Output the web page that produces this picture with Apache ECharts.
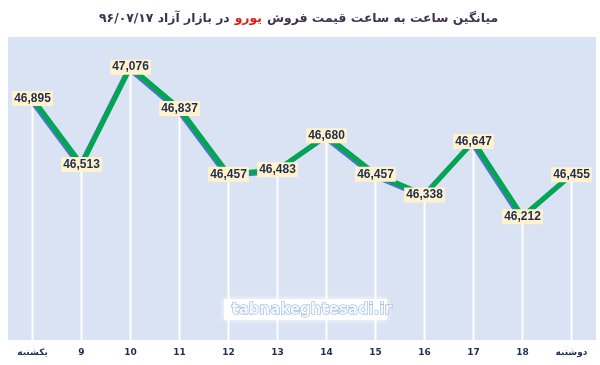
<!DOCTYPE html>
<html><head><meta charset="utf-8">
<script src="https://cdn.jsdelivr.net/npm/echarts@6/dist/echarts.min.js"></script>
<style>html,body{margin:0;padding:0;background:#fff}#c{width:600px;height:365px}</style>
</head><body><div id="c"></div>
<script>
const categories = ['یکشنبه','9','10','11','12','13','14','15','16','17','18','دوشنبه'];
const prices = [46895,46513,47076,46837,46457,46483,46680,46457,46338,46647,46212,46455];
const titleMain = 'میانگین ساعت به ساعت قیمت فروش';
const titleRed = 'یورو';
const titleTail = 'در بازار آزاد ۹۶/۰۷/۱۷';
const watermark = 'tabnakeghtesadi.ir';

const chart = echarts.init(document.getElementById('c'));
chart.setOption({
  animation: false,
  backgroundColor: '#ffffff',
  title: {
    text: '{a|' + titleTail + '} {r|' + titleRed + '} {b|' + titleMain + '}',
    left: 94, top: 5,
    textStyle: {
      rich: {
        a: {fontFamily: 'DejaVu Sans', fontWeight: 'bold', fontSize: 12.4, color: '#403151'},
        b: {fontFamily: 'DejaVu Sans', fontWeight: 'bold', fontSize: 12.4, color: '#403151'},
        r: {fontFamily: 'DejaVu Sans', fontWeight: 'bold', fontSize: 12.4, color: '#e31b1b'}
      }
    }
  },
  grid: {left: 8, right: 4, top: 37, bottom: 25, show: true, backgroundColor: '#dae3f3', borderWidth: 0},
  xAxis: {
    type: 'category', data: categories, boundaryGap: true,
    axisLine: {show: false}, axisTick: {show: false},
    axisLabel: {margin: 8, fontFamily: 'DejaVu Sans', fontWeight: 'bold', fontSize: 9, color: '#1f2d50'},
    splitLine: {show: false}
  },
  yAxis: {type: 'value', min: 45500, max: 47250, show: false, splitLine: {show: false}},
  graphic: [
    {type: 'rect', left: 224, top: 299, shape: {width: 163, height: 21},
     style: {fill: '#ffffff', shadowBlur: 6, shadowColor: 'rgba(255,255,255,0.9)'}, z: 5},
    {type: 'text', left: 231, top: 302,
     style: {text: watermark, font: 'bold 15px "DejaVu Sans"', fill: '#f2f7fd', stroke: '#86acdb', lineWidth: 1}, z: 6}
  ],
  series: [
    {type: 'bar', data: prices, barWidth: 2, itemStyle: {color: '#ffffff'}, z: 1, silent: true},
    {type: 'line', data: prices, symbol: 'circle', symbolSize: 1, showSymbol: true, z: 3,
     itemStyle: {color: 'rgba(0,0,0,0)'},
     lineStyle: {color: '#00a650', width: 5, shadowColor: '#4a78c8', shadowOffsetX: -1.5, shadowOffsetY: 1.5, shadowBlur: 0},
     labelLayout: {hideOverlap: false},
     label: {show: true, position: 'inside', formatter: p => p.value.toLocaleString('en-US'),
       fontFamily: 'Liberation Sans', fontWeight: 'bold', fontSize: 12, color: '#1f2d50',
       backgroundColor: '#fff2cc', padding: [2, 2, 1, 2]}
    }
  ]
});
</script></body></html>
